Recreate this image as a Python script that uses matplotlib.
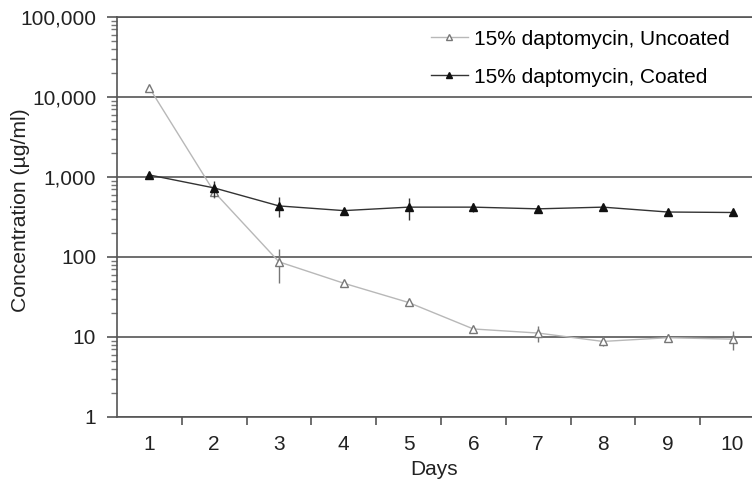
import matplotlib
matplotlib.use('Agg')
import matplotlib.pyplot as plt
from matplotlib.ticker import FuncFormatter, LogLocator, FixedLocator

plt.rcParams['font.family'] = ['Liberation Sans', 'DejaVu Sans']

# Datos
days = [1, 2, 3, 4, 5, 6, 7, 8, 9, 10]
uncoated = [13000, 650, 87, 47, 27, 12.6, 11.2, 8.8, 9.8, 9.4]
uncoated_err = [300, 100, 40, 3, 2, 1, 2.5, 1, 1, 2.5]
coated = [1060, 730, 435, 380, 420, 420, 400, 420, 365, 360]
coated_err = [80, 170, 120, 30, 130, 50, 30, 40, 30, 30]
day_labels = [str(d) for d in days]

fig = plt.figure(figsize=(7.52, 4.83), dpi=100)
ax = fig.add_axes([117 / 752, 1 - 417 / 483, 1 - 117 / 752, 400 / 483])

# barras de error (sin leyenda)
ax.errorbar(days, uncoated, yerr=uncoated_err, fmt='none',
            ecolor='#777777', elinewidth=1.0, capsize=0, zorder=3)
ax.errorbar(days, coated, yerr=coated_err, fmt='none',
            ecolor='#333333', elinewidth=1.0, capsize=0, zorder=4)

ax.plot(days, uncoated, color='#b8b8b8', lw=1.0,
        marker='^', ms=6, mfc='white', mec='#777777', mew=1.0,
        label='15% daptomycin, Uncoated', zorder=3)
ax.plot(days, coated, color='#333333', lw=1.0,
        marker='^', ms=6, mfc='#111111', mec='#111111',
        label='15% daptomycin, Coated', zorder=4)

ax.set_yscale('log')
ax.set_ylim(1, 100000)
ax.set_xlim(0.5, 10.3)

ax.yaxis.set_major_locator(LogLocator(base=10, numticks=10))
ax.yaxis.set_minor_locator(LogLocator(base=10, subs=range(2, 10), numticks=20))
ax.yaxis.set_major_formatter(FuncFormatter(lambda v, p: f'{v:,.0f}'))
ax.yaxis.set_minor_formatter(FuncFormatter(lambda v, p: ''))

ax.set_xticks(days)
ax.set_xticklabels(day_labels)
ax.xaxis.set_minor_locator(FixedLocator([d + 0.5 for d in days[:-1]]))

ax.tick_params(axis='x', which='major', length=0, pad=13, labelsize=15, colors='#222222')
ax.tick_params(axis='x', which='minor', length=6, width=1.2, color='#555555')
ax.tick_params(axis='y', which='major', length=7, width=1.2, color='#555555',
               pad=8, labelsize=15, labelcolor='#222222')
ax.tick_params(axis='y', which='minor', length=4, width=1.0, color='#777777')

ax.grid(axis='y', which='major', color='#555555', lw=1.2)
ax.set_axisbelow(True)

for side in ['left', 'bottom', 'top']:
    ax.spines[side].set_color('#555555')
    ax.spines[side].set_linewidth(1.2)
ax.spines['right'].set_visible(False)

ax.set_xlabel('Days', fontsize=15, color='#222222', labelpad=4)
ax.set_ylabel('Concentration (µg/ml)', fontsize=15.2, color='#222222')
ax.yaxis.set_label_coords(-87 / 635, 0.5175)

leg = ax.legend(loc='upper right', bbox_to_anchor=(0.995, 1.015), frameon=False,
                fontsize=15, handlelength=1.8, handletextpad=0.3, labelspacing=0.9,
                markerscale=0.8)

plt.savefig('out.png', dpi=100)
